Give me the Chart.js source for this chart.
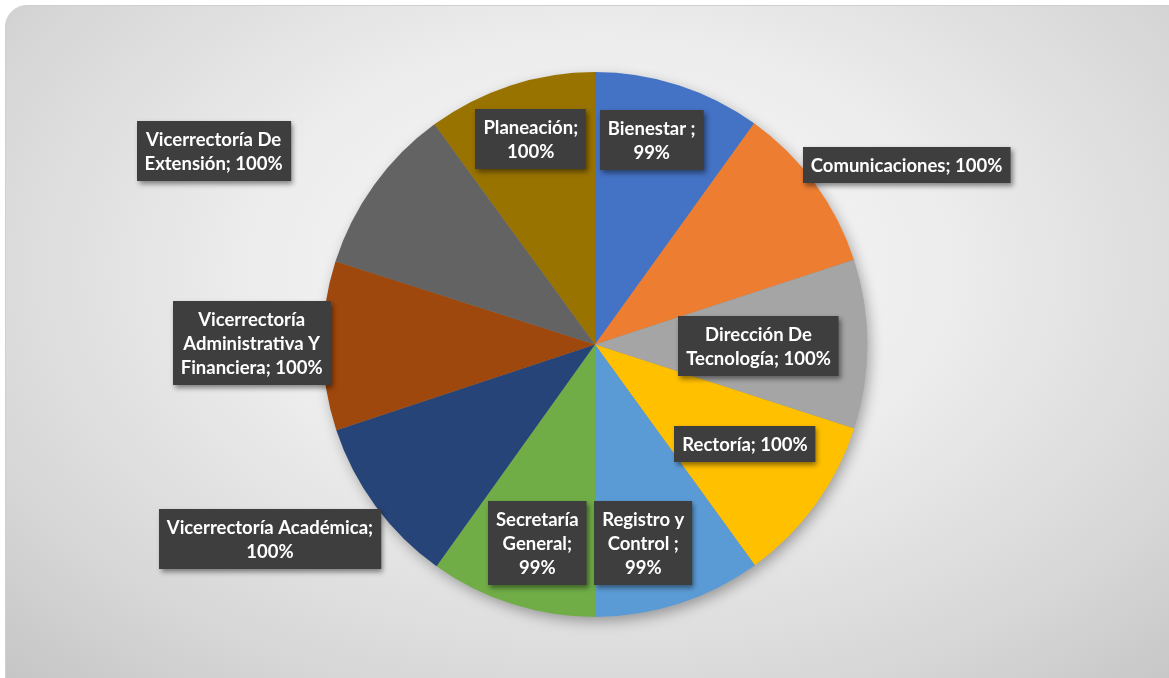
<!DOCTYPE html>
<html>
<head>
<meta charset="utf-8">
<script src="https://cdn.jsdelivr.net/npm/chart.js@4"></script>
<style>
  html, body { margin: 0; padding: 0; background: #ffffff; overflow: hidden; }
  #frame {
    position: absolute; left: 5px; top: 5px; width: 1190px; height: 700px;
    border-radius: 22px; border: 1px solid #cfcfcf; box-sizing: border-box;
    background: radial-gradient(ellipse 75% 85% at 50% 38%, #fbfbfb 0%, #ececec 40%, #d6d6d6 75%, #c2c2c2 100%);
  }
  #wrap { position: absolute; left: 0; top: 0; width: 1169px; height: 678px; }
</style>
</head>
<body>
<div id="frame"></div>
<div id="wrap"><canvas id="c" width="1169" height="678"></canvas></div>
<script>
// ---- data ----
const categories = [
  "Bienestar ", "Comunicaciones", "Dirección De Tecnología", "Rectoría",
  "Registro y Control ", "Secretaría General", "Vicerrectoría Académica",
  "Vicerrectoría Administrativa Y Financiera", "Vicerrectoría De Extensión", "Planeación"
];
const values = [99, 100, 100, 100, 99, 99, 100, 100, 100, 100];
const sliceColors = [
  "#4472C4", "#ED7D31", "#A5A5A5", "#FFC000", "#5B9BD5",
  "#70AD47", "#264478", "#9E480E", "#636363", "#997300"
];
// label layout (radius factor, angle tweak in degrees, wrap width in px)
const labelRadius = [0.78, 1.32, 0.60, 0.66, 0.75, 0.76, 1.39, 1.26, 1.57, 0.79];
const labelAngleAdj = [-2.4, 6.2, 0.5, -2.5, 4.4, -1.5, 5.5, 0.5, -8.9, 0.7];
const labelWrap = [95, 280, 165, 220, 95, 92, 240, 158, 158, 105];

const FONT = 'bold 18.5px Lato, "Liberation Sans", sans-serif';
const LINE_H = 24, PAD_X = 8, PAD_Y = 6;

function wrapText(ctx, text, maxW) {
  const words = text.split(/ +/);
  const lines = [];
  let cur = "";
  for (let i = 0; i < words.length; i++) {
    const w = words[i];
    const test = cur ? cur + " " + w : w;
    if (!cur || ctx.measureText(test).width <= maxW) cur = test;
    else { lines.push(cur); cur = w; }
  }
  if (cur) lines.push(cur);
  return lines;
}

const shadowPlugin = {
  id: 'pieShadow',
  beforeDatasetsDraw(chart) {
    const arc = chart.getDatasetMeta(0).data[0];
    if (!arc) return;
    const ctx = chart.ctx;
    ctx.save();
    ctx.shadowColor = 'rgba(0,0,0,0.35)';
    ctx.shadowBlur = 14;
    ctx.shadowOffsetX = 3;
    ctx.shadowOffsetY = 5;
    ctx.fillStyle = '#888';
    ctx.beginPath();
    ctx.arc(arc.x, arc.y, arc.outerRadius - 1, 0, Math.PI * 2);
    ctx.fill();
    ctx.restore();
  }
};

const labelPlugin = {
  id: 'boxLabels',
  afterDatasetsDraw(chart) {
    const ctx = chart.ctx;
    const meta = chart.getDatasetMeta(0);
    ctx.save();
    ctx.font = FONT;
    meta.data.forEach((arc, i) => {
      const mid = (arc.startAngle + arc.endAngle) / 2 + labelAngleAdj[i] * Math.PI / 180;
      const r = arc.outerRadius * labelRadius[i];
      const cx = arc.x + Math.cos(mid) * r;
      const cy = arc.y + Math.sin(mid) * r;
      const text = categories[i] + "; " + values[i] + "%";
      const lines = wrapText(ctx, text, labelWrap[i]);
      const w = Math.max(...lines.map(l => ctx.measureText(l).width)) + PAD_X * 2;
      const h = lines.length * LINE_H + PAD_Y * 2;
      const x0 = Math.round(cx - w / 2), y0 = Math.round(cy - h / 2);
      ctx.save();
      ctx.shadowColor = 'rgba(0,0,0,0.45)';
      ctx.shadowBlur = 5;
      ctx.shadowOffsetX = 2;
      ctx.shadowOffsetY = 3;
      ctx.fillStyle = '#3e3e3e';
      ctx.fillRect(x0, y0, w, h);
      ctx.restore();
      ctx.fillStyle = '#ffffff';
      ctx.textAlign = 'center';
      ctx.textBaseline = 'middle';
      lines.forEach((l, k) => {
        ctx.fillText(l, cx, y0 + PAD_Y + LINE_H * k + LINE_H / 2 + 1);
      });
    });
    ctx.restore();
  }
};

new Chart(document.getElementById('c'), {
  type: 'pie',
  data: {
    labels: categories,
    datasets: [{
      data: values,
      backgroundColor: sliceColors,
      borderWidth: 0
    }]
  },
  options: {
    responsive: false,
    animation: false,
    layout: { padding: { left: 21, right: 0, top: 72, bottom: 61 } },
    plugins: { legend: { display: false }, tooltip: { enabled: false } }
  },
  plugins: [shadowPlugin, labelPlugin]
});
</script>
</body>
</html>
